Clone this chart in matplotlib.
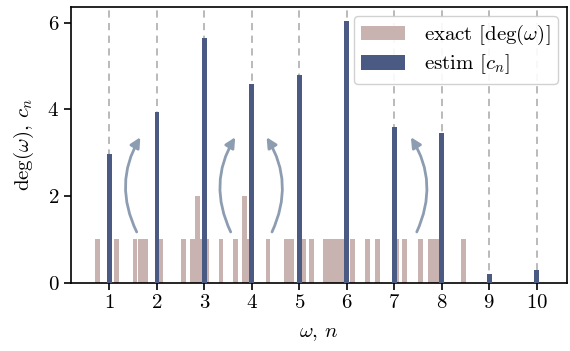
import matplotlib
matplotlib.use("Agg")
import matplotlib.pyplot as plt
from matplotlib.patches import FancyArrowPatch

plt.rcParams['font.family'] = 'serif'
plt.rcParams['font.serif'] = ['cmr10']
plt.rcParams['mathtext.fontset'] = 'cm'
plt.rcParams['axes.formatter.use_mathtext'] = True
plt.rcParams['font.size'] = 15

# exact spectrum: frequency positions and degeneracies
omega = [0.75, 1.15, 1.54, 1.65, 1.76, 2.07, 2.56, 2.75, 2.86, 2.95, 3.05,
         3.35, 3.65, 3.85, 3.95, 4.34, 4.73, 4.84, 5.10, 5.25,
         5.55, 5.65, 5.75, 5.85, 5.92, 6.12, 6.44, 6.65, 7.06, 7.21,
         7.55, 7.76, 7.86, 7.95, 8.46]
deg = [1, 1, 1, 1, 1, 1, 1, 1, 2, 1, 1,
       1, 1, 2, 1, 1, 1, 1, 1, 1,
       1, 1, 1, 1, 1, 1, 1, 1, 1, 1,
       1, 1, 1, 1, 1]

# estimated counts
n = [1, 2, 3, 4, 5, 6, 7, 8, 9, 10]
c_n = [2.96, 3.94, 5.65, 4.58, 4.79, 6.04, 3.59, 3.45, 0.20, 0.29]

# arrows (tail x, tail y, head x, head y, curvature)
arrows = [
    (1.60, 1.11, 1.68, 3.41, -0.28),
    (3.58, 1.11, 3.68, 3.41, -0.28),
    (4.40, 1.11, 4.28, 3.41, 0.28),
    (7.45, 1.11, 7.32, 3.41, 0.28),
]

fig = plt.figure(figsize=(5.70, 3.51), dpi=100)
ax = fig.add_axes([71/570, 1 - 282.5/351, (567 - 71)/570, (282.5 - 6.7)/351])

for xi in n:
    ax.axvline(xi, color='#b4b4b4', ls=(0, (4, 3)), lw=1.3, zorder=0.5)

ax.bar(omega, deg, width=0.1, color='#c9b3b1', label=r'exact [$\mathrm{deg}(\omega)$]', zorder=2)
ax.bar(n, c_n, width=0.1, color='#4b5a82', label=r'estim [$c_n$]', zorder=3)

for x0, y0, x1, y1, rad in arrows:
    ar = FancyArrowPatch((x0, y0), (x1, y1), connectionstyle=f'arc3,rad={rad}',
                         arrowstyle='-|>', mutation_scale=15, lw=2,
                         color='#8d9db1', zorder=4)
    ax.add_patch(ar)

ax.set_xlim(0.19, 10.64)
ax.set_ylim(0, 6.37)
ax.set_xticks(n)
ax.set_yticks([0, 2, 4, 6])
ax.tick_params(direction='out', length=5, width=1.2, labelsize=15)
for s in ax.spines.values():
    s.set_linewidth(1.2)

ax.set_xlabel(r'$\omega$, $n$', labelpad=9)
ax.set_ylabel(r'$\mathrm{deg}(\omega)$, $c_n$', labelpad=8)

leg = ax.legend(loc='upper right', fontsize=15, framealpha=0.9, edgecolor='#cccccc',
                fancybox=True, borderaxespad=0.45, handlelength=2.1,
                handletextpad=0.9, labelspacing=0.25, borderpad=0.35)

fig.savefig('out.png', dpi=100)
